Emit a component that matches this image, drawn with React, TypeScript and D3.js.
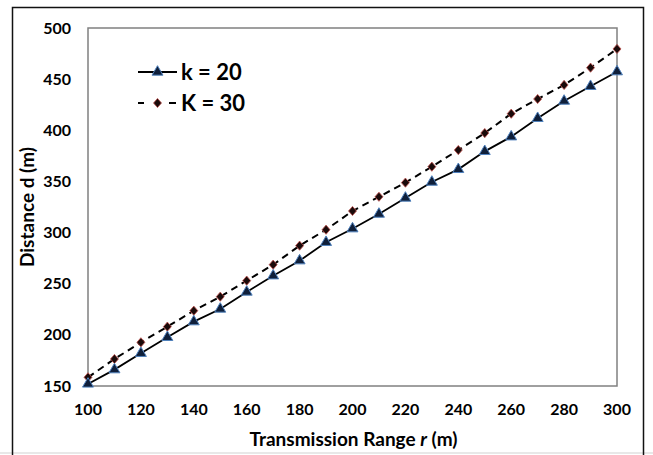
import React from "react";
import * as d3 from "d3";

const ranges = [100,110,120,130,140,150,160,170,180,190,200,210,220,230,240,250,260,270,280,290,300];
const k20 = [152,166,182,197.6,212.9,225.3,241.9,257.8,272.5,290.5,303.8,318.1,333.8,349.4,361.8,379.4,393.7,411.7,428.6,443,457.3];
const k30 = [158.5,176.4,192.7,208,223.6,237.3,253,268.6,287.2,302.8,321.1,335,348.8,364.4,380.7,397.3,416.2,430.6,444.3,461.2,479.5];
const xTicks = [100,120,140,160,180,200,220,240,260,280,300];
const yTicks = [150,200,250,300,350,400,450,500];
const seriesNames = ["k = 20", "K = 30"];

const W = 653, H = 455;
const L = 88, R = 617, T = 28, B = 386;
const FONT = "Lato, 'Open Sans', sans-serif";

export default function App() {
  const x = d3.scaleLinear().domain([100, 300]).range([L, R]);
  const y = d3.scaleLinear().domain([150, 500]).range([B, T]);
  const line = d3.line<number>().x((_, i) => x(ranges[i])).y(d => y(d));
  const tri = d3.symbol().type(d3.symbolTriangle).size(52)();
  const dia = (cx: number, cy: number) => `M${cx},${cy - 4.6}L${cx + 4},${cy}L${cx},${cy + 4.6}L${cx - 4},${cy}Z`;

  return (
    <svg width={W} height={H} style={{ position: "absolute", left: 0, top: 0, background: "#fff" }} fontFamily={FONT}>
      <rect x={0} y={0} width={W} height={H} fill="#fff" />
      <line x1={0} y1={453} x2={W} y2={453} stroke="#e0e0e0" strokeWidth={1.5} />
      <path d={`M12.5,${H}V7.5H643.5V${H}`} fill="none" stroke="#111" strokeWidth={1.5} />
      <rect x={L} y={T} width={R - L} height={B - T} fill="none" stroke="#808080" strokeWidth={1.5} />

      {yTicks.map(t => (
        <text key={t} x={71} y={y(t)} dy="0.35em" textAnchor="end" fontSize={16} fontWeight={700} fill="#000">{t}</text>
      ))}
      {xTicks.map(t => (
        <text key={t} x={x(t)} y={409} dy="0.35em" textAnchor="middle" fontSize={16} fontWeight={700} fill="#000">{t}</text>
      ))}

      <text x={(L + R) / 2 + 1} y={439} dy="0.35em" textAnchor="middle" fontSize={19} fontWeight={700} fill="#000">
        Transmission Range <tspan fontStyle="italic">r</tspan> (m)
      </text>
      <text transform={`translate(27,${(T + B) / 2}) rotate(-90)`} dy="0.35em" textAnchor="middle" fontSize={19} fontWeight={700} fill="#000">
        Distance d (m)
      </text>

      <path d={line(k30) || ""} fill="none" stroke="#000" strokeWidth={2} strokeDasharray="7,5" />
      <path d={line(k20) || ""} fill="none" stroke="#000" strokeWidth={1.8} />

      {k30.map((v, i) => (
        <path key={"d" + i} d={dia(x(ranges[i]), y(v))} fill="#1a0a0a" stroke="#c0504d" strokeWidth={0.8} />
      ))}
      {k20.map((v, i) => (
        <path key={"t" + i} d={tri} transform={`translate(${x(ranges[i])},${y(v)})`} fill="#0f1f3a" stroke="#4f81bd" strokeWidth={1} />
      ))}

      {/* legend */}
      <line x1={138} y1={72} x2={177} y2={72} stroke="#000" strokeWidth={1.8} />
      <path d={tri} transform="translate(157.5,72)" fill="#0f1f3a" stroke="#4f81bd" strokeWidth={1} />
      <text x={181} y={72} dy="0.35em" fontSize={22} fontWeight={700} fill="#000">{seriesNames[0]}</text>

      <line x1={138} y1={103} x2={144} y2={103} stroke="#000" strokeWidth={2} />
      <line x1={169} y1={103} x2={176} y2={103} stroke="#000" strokeWidth={2} />
      <path d={dia(157.5, 103)} fill="#1a0a0a" stroke="#c0504d" strokeWidth={0.8} />
      <text x={181} y={103} dy="0.35em" fontSize={22} fontWeight={700} fill="#000">{seriesNames[1]}</text>
    </svg>
  );
}
